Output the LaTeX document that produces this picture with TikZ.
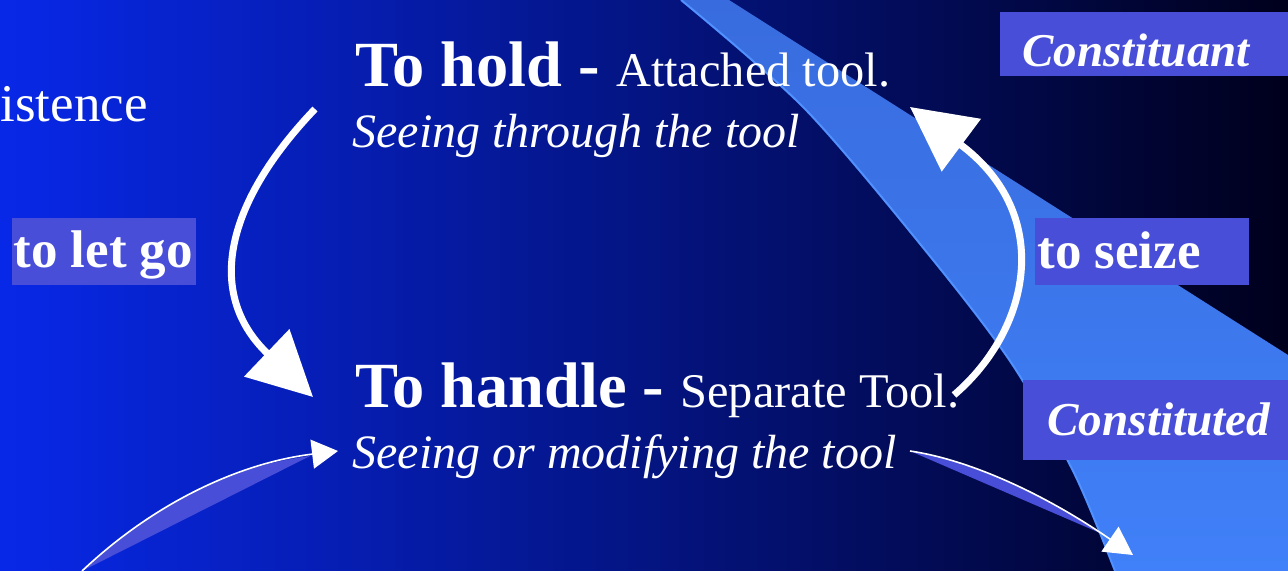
\documentclass[tikz,border=0pt]{standalone}
\usepackage{fontspec}
\setmainfont{Liberation Serif}
\usetikzlibrary{arrows.meta}
\definecolor{bgleft}{RGB}{8,40,232}
\definecolor{bgmid}{RGB}{6,22,165}
\definecolor{bgright}{RGB}{0,0,28}
\definecolor{swtop}{RGB}{56,108,222}
\definecolor{swbot}{RGB}{64,128,248}
\definecolor{swedge}{RGB}{80,145,255}
\definecolor{boxblue}{RGB}{72,78,216}
\tikzset{
  txt/.style={anchor=base west, inner sep=0pt, text=white},
  lbox/.style={fill=boxblue, draw=none, inner sep=0pt},
  bigarrow/.style={white, line width=3.5pt, -{Triangle[length=32pt,width=32pt]}},
  thinarrow/.style={white, line width=0.8pt},
  sliver/.style={fill=boxblue, draw=none},
}
\begin{document}
\begin{tikzpicture}[x={(0.5pt,0)}, y={(0,-0.5pt)}]
\useasboundingbox (0,0) rectangle (1288,571);
% background
\shade[left color=bgleft, middle color=bgmid, right color=bgright] (0,0) rectangle (1288,571);
% swoosh
\shade[top color=swtop, bottom color=swbot]
  plot[smooth] coordinates {(1115,571) (1074,473) (1012,364) (929,255) (805,109) (681,0)}
  -- (729,0) -- (1288,355) -- (1288,571) -- cycle;
\draw[swedge, line width=1pt]
  plot[smooth] coordinates {(681,0) (805,109) (929,255) (1012,364) (1074,473) (1115,571)};

% label boxes
\node[lbox, minimum width=92pt, minimum height=33.5pt] (letgobox) at (104,251.5) {};
\node[lbox, minimum width=107pt, minimum height=33.5pt] (seizebox) at (1142,251.5) {};
\node[lbox, minimum width=144pt, minimum height=32pt] (constbox) at (1144,44) {};
\node[lbox, minimum width=132.5pt, minimum height=40pt] (consdbox) at (1155.5,420) {};

% texts
\node[txt, anchor=base east] (exist) at (148,122) {\fontsize{26.5}{30}\selectfont istence};
\node[txt] (hold) at (355,87) {\fontsize{32.2}{36}\selectfont\bfseries To hold - {\fontsize{24.2}{28}\selectfont\mdseries Attached tool.}};
\node[txt] (through) at (352,148) {\fontsize{24}{28}\selectfont\itshape Seeing through the tool};
\node[txt] (handle) at (355,407) {\fontsize{32.2}{36}\selectfont\bfseries To handle - {\fontsize{24.2}{28}\selectfont\mdseries Separate Tool.}};
\node[txt] (modify) at (352,468) {\fontsize{24}{28}\selectfont\itshape Seeing or modifying the tool};
\node[txt] (letgo) at (13,268) {\fontsize{26.5}{30}\selectfont\bfseries to let go};
\node[txt] (seize) at (1037,269) {\fontsize{26.5}{30}\selectfont\bfseries to seize};
\node[txt] (constituant) at (1022,67) {\fontsize{23.5}{28}\selectfont\bfseries\itshape Constituant};
\node[txt] (constituted) at (1047,435) {\fontsize{23.6}{28}\selectfont\bfseries\itshape Constituted};

% arrow coordinates
\coordinate (a1s) at (315,109);
\coordinate (a1e) at (313,397);
\coordinate (a2s) at (954,395);
\coordinate (a2e) at (910,107);
\coordinate (a3s) at (82,571);
\coordinate (a3e) at (338,451);
\coordinate (a4s) at (910,451);
\coordinate (a4e) at (1133,555);

% big arrows
\draw[bigarrow] (a1s) .. controls (228,200) and (203,292) .. (a1e);
\draw[bigarrow] (a2s) .. controls (1030,330) and (1055,215) .. (a2e);

% thin arrows with slivers
\fill[sliver] (a3s) .. controls (151,505) and (227,467) .. (310,456) -- cycle;
\draw[thinarrow, -{Triangle[length=13pt,width=14.5pt]}] (a3s) .. controls (154,503) and (239,463) .. (a3e);
\fill[sliver] (a4s) .. controls (970,461) and (1033,488) .. (1100,533) -- cycle;
\draw[thinarrow, -{Triangle[length=14pt,width=15pt]}] (a4s) .. controls (971,460) and (1046,495) .. (a4e);
\end{tikzpicture}
\end{document}
